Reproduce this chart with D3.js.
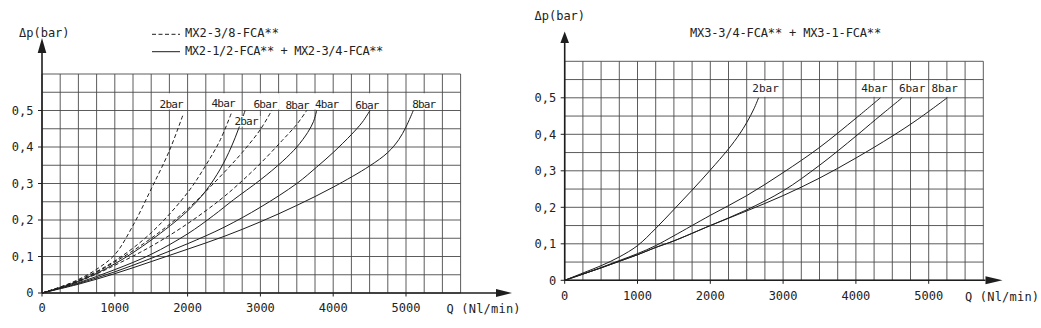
<!DOCTYPE html>
<html><head><meta charset="utf-8">
<script src="https://cdn.jsdelivr.net/npm/d3@7"></script>
<style>
html,body{margin:0;padding:0;background:#fff;}
text{font-family:"DejaVu Sans Mono",monospace;fill:#222;}
</style></head>
<body><svg id="c" width="1041" height="328"></svg>
<script>
// ---------------- DATA ----------------
const xTicks = [0, 1000, 2000, 3000, 4000, 5000];
const yTicks = [0, 0.1, 0.2, 0.3, 0.4, 0.5];
const yTickLabels = ["0", "0,1", "0,2", "0,3", "0,4", "0,5"];
const xGridMax = 5750, xGridStep = 250;
const yGridMax = 0.6, yGridStep = 0.05;
const yTitle = "Δp(bar)";
const xTitle = "Q (Nl/min)";

const leftLegendDashed = "MX2-3/8-FCA**";
const leftLegendSolid = "MX2-1/2-FCA** + MX2-3/4-FCA**";
const rightTitle = "MX3-3/4-FCA** + MX3-1-FCA**";

// Left chart, dashed: MX2-3/8-FCA**   [Q (Nl/min), Δp (bar)]
const mx2_38_2bar = [[0,0],[250,0.016],[500,0.037],[750,0.065],[1000,0.105],[1250,0.185],[1500,0.285],[1750,0.39],[1940,0.49]];
const mx2_38_4bar = [[0,0],[500,0.035],[1000,0.088],[1500,0.165],[2000,0.275],[2250,0.35],[2450,0.42],[2605,0.495]];
const mx2_38_6bar = [[0,0],[500,0.033],[1000,0.085],[1500,0.15],[2000,0.23],[2500,0.33],[2750,0.385],[3000,0.448],[3155,0.5]];
const mx2_38_8bar = [[0,0],[500,0.031],[1000,0.076],[1500,0.128],[2000,0.19],[2445,0.255],[2720,0.302],[3000,0.355],[3300,0.418],[3500,0.462],[3636,0.5]];
// Left chart, solid: MX2-1/2-FCA** + MX2-3/4-FCA**
const mx2_12_2bar = [[0,0],[500,0.032],[1000,0.08],[1500,0.145],[2000,0.225],[2250,0.28],[2450,0.34],[2600,0.4],[2700,0.45],[2790,0.5]];
const mx2_12_4bar = [[0,0],[500,0.028],[1000,0.064],[1500,0.106],[2000,0.162],[2353,0.212],[2628,0.255],[3000,0.31],[3300,0.36],[3500,0.4],[3650,0.44],[3730,0.47],[3773,0.5]];
const mx2_12_6bar = [[0,0],[500,0.026],[1000,0.058],[1500,0.095],[2000,0.135],[2500,0.18],[3000,0.235],[3500,0.3],[3773,0.345],[4000,0.385],[4254,0.435],[4400,0.468],[4505,0.5]];
const mx2_12_8bar = [[0,0],[500,0.024],[1000,0.053],[1500,0.086],[2000,0.12],[2500,0.155],[3000,0.195],[3500,0.24],[4000,0.29],[4500,0.348],[4750,0.385],[4900,0.42],[5000,0.455],[5100,0.5]];
// Right chart: MX3-3/4-FCA** + MX3-1-FCA**
const mx3_2bar = [[0,0],[250,0.02],[500,0.04],[750,0.064],[1000,0.095],[1250,0.142],[1500,0.194],[1750,0.247],[2000,0.302],[2250,0.36],[2400,0.4],[2500,0.432],[2600,0.47],[2663,0.5]];
const mx3_4bar = [[0,0],[250,0.017],[500,0.035],[750,0.054],[1000,0.073],[1250,0.095],[1500,0.122],[2000,0.178],[2500,0.232],[3000,0.295],[3500,0.364],[4000,0.444],[4337,0.5]];
const mx3_6bar = [[0,0],[250,0.017],[500,0.034],[750,0.052],[1000,0.07],[1250,0.09],[1500,0.108],[2000,0.15],[2500,0.193],[3000,0.245],[3500,0.315],[4000,0.395],[4268,0.44],[4635,0.5]];
const mx3_8bar = [[0,0],[250,0.017],[500,0.034],[750,0.052],[1000,0.07],[1250,0.09],[1500,0.108],[2000,0.15],[2500,0.19],[3000,0.232],[3500,0.28],[4000,0.335],[4500,0.395],[4842,0.44],[5254,0.5]];

const pressureLabels = ["2bar", "4bar", "6bar", "8bar"];

// ---------------- DRAWING ----------------
const svg = d3.select("#c");
const ink = "#1e1e1e";

function panel(o) {
  const g = svg.append("g");
  const x = d3.scaleLinear().domain([0, xGridMax]).range([o.x0, o.x1]);
  const y = d3.scaleLinear().domain([0, yGridMax]).range([o.y0, o.y1]);
  const xs = d3.range(0, xGridMax + 1, xGridStep);
  const ys = d3.range(0, yGridMax + 1e-9, yGridStep);
  // grid
  g.selectAll(".vg").data(xs).join("line")
    .attr("x1", d => x(d)).attr("x2", d => x(d))
    .attr("y1", y(0)).attr("y2", y(yGridMax))
    .attr("stroke", "#4a4a4a").attr("stroke-width", 0.9);
  g.selectAll(".hg").data(ys).join("line")
    .attr("x1", x(0)).attr("x2", x(xGridMax))
    .attr("y1", d => y(d)).attr("y2", d => y(d))
    .attr("stroke", "#4a4a4a").attr("stroke-width", 0.9);
  // axes
  g.append("line").attr("x1", x(0)).attr("x2", o.xArrow - o.xHead)
    .attr("y1", y(0)).attr("y2", y(0)).attr("stroke", ink).attr("stroke-width", 1.6);
  g.append("path").attr("d", `M${o.xArrow},${y(0)} L${o.xArrow - o.xHead},${y(0) - 4} L${o.xArrow - o.xHead},${y(0) + 4}Z`).attr("fill", ink);
  g.append("line").attr("x1", x(0)).attr("x2", x(0))
    .attr("y1", y(0)).attr("y2", o.yArrow + o.yHead).attr("stroke", ink).attr("stroke-width", 1.6);
  g.append("path").attr("d", `M${x(0)},${o.yArrow} L${x(0) - 4.3},${o.yArrow + o.yHead} L${x(0) + 4.3},${o.yArrow + o.yHead}Z`).attr("fill", ink);
  // ticks
  g.selectAll(".xt").data(xTicks).join("line")
    .attr("x1", d => x(d)).attr("x2", d => x(d)).attr("y1", y(0)).attr("y2", y(0) + 3.5)
    .attr("stroke", ink).attr("stroke-width", 1);
  g.selectAll(".yt").data(yTicks).join("line")
    .attr("x1", x(0) - 4).attr("x2", x(0)).attr("y1", d => y(d)).attr("y2", d => y(d))
    .attr("stroke", ink).attr("stroke-width", 1);
  g.selectAll(".xl").data(xTicks).join("text")
    .attr("x", d => x(d)).attr("y", y(0) + 15).attr("dy", "0.35em")
    .attr("text-anchor", "middle").attr("font-size", 12).text(d => d);
  g.selectAll(".yl").data(yTicks).join("text")
    .attr("x", x(0) - 8.5).attr("y", d => y(d)).attr("dy", "0.35em")
    .attr("text-anchor", "end").attr("font-size", 12).text((d, i) => yTickLabels[i]);
  g.append("text").attr("x", o.qx).attr("y", y(0) + 16).attr("dy", "0.35em")
    .attr("font-size", 12).attr("letter-spacing", 0.2).text(xTitle);
  g.append("text").attr("x", o.tx).attr("y", o.ty).attr("dy", "0.35em")
    .attr("font-size", 12).text(yTitle);
  // curves
  const line = d3.line().x(d => x(d[0])).y(d => y(d[1])).curve(d3.curveCatmullRom.alpha(0.5));
  o.series.forEach(s => {
    g.append("path").attr("d", line(s.data)).attr("fill", "none")
      .attr("stroke", ink).attr("stroke-width", 1)
      .attr("stroke-dasharray", s.dashed ? "4,2.5" : null);
  });
  // curve labels with white boxes
  o.series.forEach(s => {
    const end = s.data[s.data.length - 1];
    const cx = x(end[0]) + s.dx;
    const cy = s.cy;
    const t = g.append("text").attr("x", cx).attr("y", cy).attr("dy", "0.35em")
      .attr("text-anchor", "middle").attr("font-size", 11)
      .attr("letter-spacing", o.lblSpacing).text(s.label);
    const bb = t.node().getBBox();
    g.insert("rect", () => t.node())
      .attr("x", bb.x - 1.5).attr("y", s.boxTop).attr("width", bb.width + 3)
      .attr("height", s.boxBottom - s.boxTop).attr("fill", "#fff");
  });
  return {x, y, g};
}

// left panel
const yL0 = 293, yLtop = 74;
const yLs = v => yL0 - (yL0 - yLtop) * v / yGridMax;
const L = panel({
  x0: 42, x1: 42 + 5.75 * 72.8, y0: yL0, y1: yLtop,
  xArrow: 512, xHead: 16, yArrow: 38, yHead: 15,
  qx: 446.5, tx: 19, ty: 32.5, lblSpacing: -0.8,
  series: [
    {data: mx2_38_2bar, dashed: true, label: pressureLabels[0], dx: -12, cy: 104, boxTop: yLs(0.55) + 1, boxBottom: yLs(0.5) - 1},
    {data: mx2_38_4bar, dashed: true, label: pressureLabels[1], dx: -8.5, cy: 103.5, boxTop: yLs(0.55) + 1, boxBottom: yLs(0.5) - 1},
    {data: mx2_12_2bar, dashed: false, label: pressureLabels[0], dx: 1, cy: 121, boxTop: 116, boxBottom: 126.5},
    {data: mx2_38_6bar, dashed: true, label: pressureLabels[2], dx: -6.5, cy: 104.5, boxTop: yLs(0.55) + 1, boxBottom: yLs(0.5) - 1},
    {data: mx2_38_8bar, dashed: true, label: pressureLabels[3], dx: -9.5, cy: 105, boxTop: yLs(0.55) + 1, boxBottom: yLs(0.5) - 1},
    {data: mx2_12_4bar, dashed: false, label: pressureLabels[1], dx: 10, cy: 104, boxTop: yLs(0.55) + 1, boxBottom: yLs(0.5) - 1},
    {data: mx2_12_6bar, dashed: false, label: pressureLabels[2], dx: -3, cy: 105, boxTop: yLs(0.55) + 1, boxBottom: yLs(0.5) - 1},
    {data: mx2_12_8bar, dashed: false, label: pressureLabels[3], dx: 10.5, cy: 104, boxTop: yLs(0.55) + 1, boxBottom: yLs(0.5) - 1}
  ]
});
// left legend
L.g.append("line").attr("x1", 152).attr("x2", 180).attr("y1", 34.3).attr("y2", 34.3)
  .attr("stroke", ink).attr("stroke-width", 1).attr("stroke-dasharray", "4,2.5");
L.g.append("line").attr("x1", 152).attr("x2", 180).attr("y1", 51.7).attr("y2", 51.7)
  .attr("stroke", ink).attr("stroke-width", 1);
L.g.append("text").attr("x", 185).attr("y", 33).attr("dy", "0.35em").attr("font-size", 12).text(leftLegendDashed);
L.g.append("text").attr("x", 185).attr("y", 50.8).attr("dy", "0.35em").attr("font-size", 12)
  .attr("letter-spacing", -0.4).text(leftLegendSolid);

// right panel
const yR0 = 280.3, yRtop = 61.3;
const yRs = v => yR0 - (yR0 - yRtop) * v / yGridMax;
const R = panel({
  x0: 564.7, x1: 564.7 + 5.75 * 72.8, y0: yR0, y1: yRtop,
  xArrow: 1002.5, xHead: 17, yArrow: 31.5, yHead: 11.5,
  qx: 965, tx: 534.5, ty: 15.3, lblSpacing: 0,
  series: [
    {data: mx3_2bar, dashed: false, label: pressureLabels[0], dx: 7, cy: 88.3, boxTop: yRs(0.55) + 1, boxBottom: yRs(0.5) - 1},
    {data: mx3_4bar, dashed: false, label: pressureLabels[1], dx: -6, cy: 88.3, boxTop: yRs(0.55) + 1, boxBottom: yRs(0.5) - 1},
    {data: mx3_6bar, dashed: false, label: pressureLabels[2], dx: 10, cy: 88.3, boxTop: yRs(0.55) + 1, boxBottom: yRs(0.5) - 1},
    {data: mx3_8bar, dashed: false, label: pressureLabels[3], dx: -2.5, cy: 88.3, boxTop: yRs(0.55) + 1, boxBottom: yRs(0.5) - 1}
  ]
});
R.g.append("text").attr("x", 690).attr("y", 32.8).attr("dy", "0.35em").attr("font-size", 12)
  .attr("letter-spacing", -0.15).text(rightTitle);
</script></body></html>
